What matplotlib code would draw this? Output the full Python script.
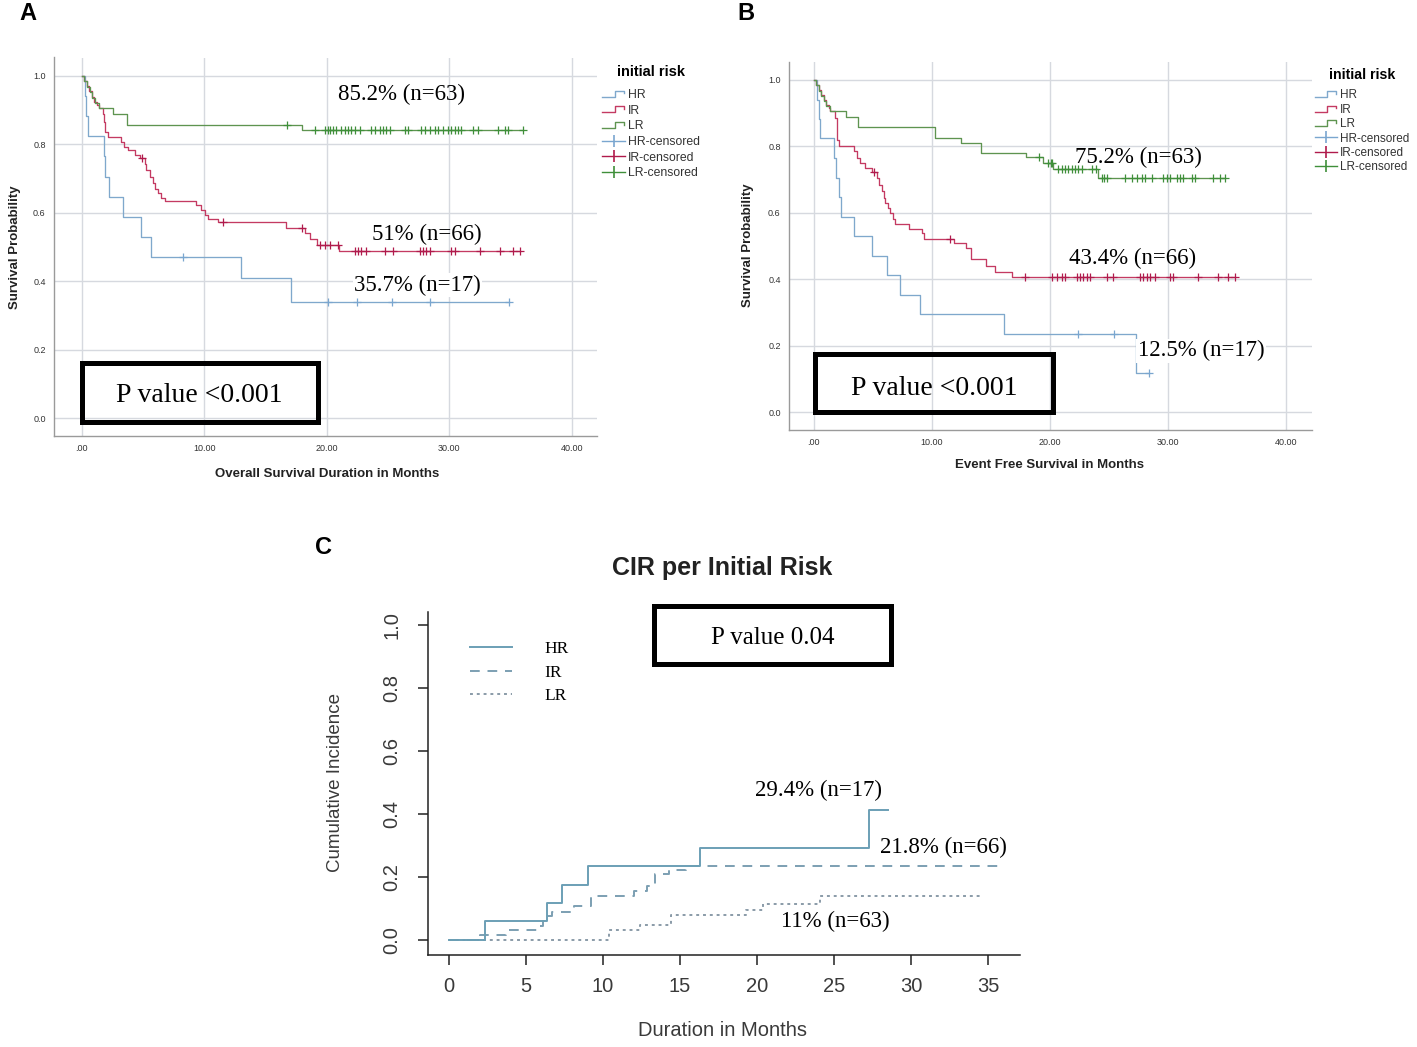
import numpy as np
import matplotlib
matplotlib.use("Agg")
import matplotlib.pyplot as plt
from matplotlib.lines import Line2D
from matplotlib.patches import Rectangle
from matplotlib.legend_handler import HandlerBase

plt.rcParams['font.family'] = ['Liberation Sans', 'DejaVu Sans']
SERIF = ['Liberation Serif', 'DejaVu Serif']

# ---------------- Panel A: overall survival (Kaplan-Meier) ----------------
os_hr_time = [0.25, 0.4, 0.5, 1.8, 1.95, 2.27, 3.36, 4.86, 5.68, 13.0, 17.1]
os_hr_surv = [0.941, 0.882, 0.824, 0.765, 0.706, 0.647, 0.588, 0.529, 0.471, 0.41, 0.34]
os_hr_cens = [8.3, 20.1, 22.5, 25.3, 28.4, 34.9]

os_ir_time = [0.22, 0.44, 0.63, 0.82, 1.04, 1.26, 1.45, 1.72, 1.8, 1.91, 2.13, 3.22, 3.5, 3.77,
              4.32, 4.73, 5.14, 5.27, 5.55, 5.82, 5.96, 6.23, 6.5, 6.78, 9.37, 9.78, 10.05, 10.33,
              11.15, 16.7, 18.2, 18.6, 19.2, 21.0]
os_ir_surv = [0.985, 0.97, 0.955, 0.94, 0.925, 0.915, 0.905, 0.89, 0.865, 0.837, 0.822, 0.808,
              0.793, 0.783, 0.769, 0.759, 0.744, 0.725, 0.705, 0.686, 0.671, 0.657, 0.642, 0.634,
              0.622, 0.608, 0.593, 0.583, 0.574, 0.557, 0.540, 0.525, 0.507, 0.488]
os_ir_cens = [4.95, 11.56, 17.95, 19.43, 19.84, 20.24, 20.92, 22.29, 22.56, 22.83, 23.24, 24.74,
              25.41, 27.59, 27.86, 28.14, 28.41, 30.18, 30.45, 32.49, 34.12, 35.21, 35.76]

os_lr_time = [0.2, 0.45, 0.65, 0.85, 1.1, 1.4, 2.6, 3.7, 18.0]
os_lr_surv = [0.984, 0.968, 0.952, 0.937, 0.921, 0.905, 0.889, 0.857, 0.842]
os_lr_cens = [16.8, 19.02, 19.84, 20.11, 20.24, 20.52, 20.79, 21.2, 21.47, 21.74, 22.01, 22.29,
              22.69, 23.65, 23.92, 24.33, 24.6, 24.87, 25.14, 26.37, 26.64, 27.72, 28.0, 28.41,
              28.82, 29.09, 29.5, 29.9, 30.18, 30.45, 30.72, 31.0, 31.95, 32.35, 34.0, 34.53,
              34.8, 36.0]

# ---------------- Panel B: event free survival ----------------
efs_hr_time = [0.3, 0.45, 0.55, 1.75, 1.9, 2.1, 2.3, 3.4, 4.9, 6.2, 7.3, 9.0, 16.1, 27.3]
efs_hr_surv = [0.941, 0.882, 0.824, 0.765, 0.706, 0.647, 0.588, 0.529, 0.471, 0.412, 0.353,
               0.294, 0.235, 0.117]
efs_hr_cens = [22.4, 25.4, 28.4]

efs_ir_time = [0.2, 0.45, 0.65, 0.85, 1.05, 1.25, 1.4, 1.83, 1.97, 2.1, 3.38, 3.66, 3.94, 4.37,
               4.93, 5.35, 5.55, 5.77, 5.92, 6.06, 6.28, 6.48, 6.68, 6.85, 8.03, 9.15, 9.3, 11.9,
               12.9, 13.3, 14.6, 15.35, 16.8]
efs_ir_surv = [0.985, 0.97, 0.955, 0.94, 0.925, 0.915, 0.905, 0.885, 0.82, 0.80, 0.785, 0.765,
               0.75, 0.735, 0.722, 0.705, 0.685, 0.665, 0.645, 0.63, 0.615, 0.60, 0.58, 0.565,
               0.552, 0.54, 0.52, 0.51, 0.495, 0.46, 0.44, 0.422, 0.407]
efs_ir_cens = [5.07, 11.55, 17.88, 20.14, 20.56, 20.99, 21.27, 22.26, 22.54, 22.82, 23.10, 23.39,
               24.80, 25.37, 27.63, 27.91, 28.19, 28.47, 28.90, 30.17, 30.40, 32.57, 34.27,
               35.11, 35.68]

efs_lr_time = [0.2, 0.45, 0.65, 0.85, 1.05, 1.4, 2.7, 3.75, 10.3, 12.5, 14.2, 18.0, 19.4, 20.3, 24.1]
efs_lr_surv = [0.984, 0.968, 0.952, 0.937, 0.921, 0.905, 0.889, 0.857, 0.825, 0.81, 0.78,
               0.767, 0.75, 0.733, 0.705]
efs_lr_cens = [19.1, 19.86, 20.06, 20.2, 20.71, 20.99, 21.27, 21.55, 21.84, 22.12, 22.4, 22.68,
               23.53, 23.9, 24.38, 24.58, 24.8, 26.35, 26.92, 27.34, 27.77, 28.05, 28.62, 29.6,
               29.89, 30.17, 30.73, 31.02, 31.24, 32.0, 32.29, 33.84, 34.41, 34.83]

# ---------------- Panel C: cumulative incidence of relapse ----------------
cir_hr_time = [2.35, 6.35, 7.35, 9.0, 16.3, 27.3]
cir_hr_val = [0.059, 0.116, 0.174, 0.235, 0.293, 0.412]
cir_hr_end = 28.5
cir_ir_time = [2.0, 3.7, 5.75, 6.1, 6.4, 6.7, 8.1, 9.2, 12.0, 12.85, 13.4, 14.3, 15.4]
cir_ir_val = [0.015, 0.03, 0.045, 0.06, 0.076, 0.09, 0.106, 0.14, 0.155, 0.17, 0.21, 0.222, 0.235]
cir_ir_end = 35.7
cir_lr_time = [10.4, 12.4, 14.4, 19.3, 20.4, 24.1]
cir_lr_val = [0.03, 0.047, 0.08, 0.095, 0.113, 0.14]
cir_lr_end = 34.5

groups = ["HR", "IR", "LR"]
km_xticks = [0, 10, 20, 30, 40]
km_xticklabels = [".00", "10.00", "20.00", "30.00", "40.00"]
km_yticks = [0.0, 0.2, 0.4, 0.6, 0.8, 1.0]
km_yticklabels = ["0.0", "0.2", "0.4", "0.6", "0.8", "1.0"]
cir_xticks = [0, 5, 10, 15, 20, 25, 30, 35]
cir_yticks = [0.0, 0.2, 0.4, 0.6, 0.8, 1.0]

labels_A = ["85.2% (n=63)", "51% (n=66)", "35.7% (n=17)"]
labels_B = ["75.2% (n=63)", "43.4% (n=66)", "12.5% (n=17)"]
labels_C = ["29.4% (n=17)", "21.8% (n=66)", "11% (n=63)"]

line_col = {"HR": "#7fa8cc", "IR": "#c43a62", "LR": "#5e9450"}
cens_col = {"HR": "#7aa6cf", "IR": "#b01a4c", "LR": "#3f8f3a"}
cir_col = {"HR": "#6b9fb5", "IR": "#7c9fb2", "LR": "#8a9ba8"}

W, H = 1417, 1047
fig = plt.figure(figsize=(W / 100, H / 100), dpi=100)


def px_axes(l, t, r, b):
    return fig.add_axes([l / W, 1 - b / H, (r - l) / W, (b - t) / H])


class HandlerStep(HandlerBase):
    def create_artists(self, legend, orig_handle, xdescent, ydescent, width, height, fontsize, trans):
        x0, y0 = -xdescent, -ydescent
        xs = [x0, x0 + 0.55 * width, x0 + 0.55 * width, x0 + 0.95 * width, x0 + 0.95 * width]
        ys = [y0 + 0.15 * height, y0 + 0.15 * height, y0 + 0.85 * height, y0 + 0.85 * height,
              y0 + 0.55 * height]
        return [Line2D(xs, ys, color=orig_handle.get_color(), lw=1.0, transform=trans)]


class HandlerCens(HandlerBase):
    def create_artists(self, legend, orig_handle, xdescent, ydescent, width, height, fontsize, trans):
        x0, y0 = -xdescent, -ydescent
        c = orig_handle.get_color()
        ln = Line2D([x0, x0 + width], [y0 + height / 2] * 2, color=c, lw=1.0, transform=trans)
        mk = Line2D([x0 + width / 2], [y0 + height / 2], marker='|', ms=8, mew=1.2, color=c,
                    transform=trans)
        return [ln, mk]


def km_panel(ax, data, xlab, xlim, ylim):
    for g, (t, s, c) in zip(groups, data):
        t = np.asarray(t, float); s = np.asarray(s, float); c = np.asarray(c, float)
        end = max(t.max(), c.max())
        tt = np.r_[0.0, t, end]
        ss = np.r_[1.0, s, s[-1]]
        ax.step(tt, ss, where='post', color=line_col[g], lw=0.95, zorder=3)
        cy = np.r_[1.0, s][np.searchsorted(t, c, side='right')]
        ax.plot(c, cy, ls='none', marker='+', ms=6, mew=0.9, color=cens_col[g], zorder=4)
    ax.set_xlim(*xlim)
    ax.set_ylim(*ylim)
    ax.set_xticks(km_xticks)
    ax.set_xticklabels(km_xticklabels)
    ax.set_yticks(km_yticks)
    ax.set_yticklabels(km_yticklabels)
    ax.grid(True, color="#d6d9df", lw=1.0)
    ax.set_axisbelow(True)
    for sp in ["top", "right"]:
        ax.spines[sp].set_visible(False)
    for sp in ["left", "bottom"]:
        ax.spines[sp].set_color("#9a9a9a")
        ax.spines[sp].set_linewidth(1.0)
    ax.tick_params(length=0, labelsize=6.5, labelcolor="#333333", pad=6)
    ax.set_xlabel(xlab, fontsize=9.5, fontweight='bold', color="#222222")
    ax.set_ylabel("Survival Probability", fontsize=9.5, fontweight='bold', color="#222222")


def km_legend(ax, anchor_px, fs, tfs, ls, title_gap_pt):
    hs = [Line2D([], [], color=line_col[g]) for g in groups]
    hc = [Line2D([], [], color=cens_col[g]) for g in groups]
    hmap = {h: HandlerStep() for h in hs}
    hmap.update({h: HandlerCens() for h in hc})
    leg = ax.legend(hs + hc, groups + [g + "-censored" for g in groups], handler_map=hmap,
                    loc='upper left', bbox_to_anchor=(anchor_px[0] / W, 1 - anchor_px[1] / H),
                    bbox_transform=fig.transFigure, frameon=False, fontsize=fs,
                    title="initial risk", title_fontproperties={'weight': 'bold', 'size': tfs},
                    handlelength=1.9, handletextpad=0.2, labelspacing=ls, borderpad=0,
                    borderaxespad=0)
    leg._legend_box.sep = title_gap_pt
    for t in leg.get_texts():
        t.set_color("#333333")


# ---------------- Panel A ----------------
axA = px_axes(54, 57.5, 597, 436)
km_panel(axA, [(os_hr_time, os_hr_surv, os_hr_cens), (os_ir_time, os_ir_surv, os_ir_cens),
               (os_lr_time, os_lr_surv, os_lr_cens)],
         "Overall Survival Duration in Months", (-2.25, 42.06), (-0.052, 1.054))
axA.xaxis.set_label_coords(0.503, -0.100)
axA.yaxis.set_label_coords(-0.071, 0.499)
axA.xaxis.label.set_va('center'); axA.yaxis.label.set_va('center')
km_legend(axA, (602, 65), 8.8, 10.5, 0.30, 7.2)
axA.text(26.1, 0.947, labels_A[0], family=SERIF, fontsize=16.5, ha='center', va='center')
axA.text(28.2, 0.538, labels_A[1], family=SERIF, fontsize=16.5, ha='center', va='center')
axA.text(27.4, 0.389, labels_A[2], family=SERIF, fontsize=16.5, ha='center', va='center',
         bbox=dict(fc='white', ec='none', pad=1))
axA.add_patch(Rectangle((0, -0.012), 19.3, 0.173, fill=False, ec='black', lw=3.6, zorder=6))
axA.text(9.6, 0.067, "P value <0.001", family=SERIF, fontsize=20, ha='center', va='center', zorder=6)

# ---------------- Panel B ----------------
axB = px_axes(789, 62, 1312, 430)
km_panel(axB, [(efs_hr_time, efs_hr_surv, efs_hr_cens), (efs_ir_time, efs_ir_surv, efs_ir_cens),
               (efs_lr_time, efs_lr_surv, efs_lr_cens)],
         "Event Free Survival in Months", (-2.1, 42.2), (-0.054, 1.054))
axB.xaxis.set_label_coords(0.499, -0.095)
axB.yaxis.set_label_coords(-0.078, 0.503)
axB.xaxis.label.set_va('center'); axB.yaxis.label.set_va('center')
km_legend(axB, (1315, 68), 8.5, 10.2, 0.20, 5.4)
axB.text(27.5, 0.768, labels_B[0], family=SERIF, fontsize=16.5, ha='center', va='center')
axB.text(27.0, 0.464, labels_B[1], family=SERIF, fontsize=16.5, ha='center', va='center')
axB.text(32.8, 0.184, labels_B[2], family=SERIF, fontsize=16.5, ha='center', va='center',
         bbox=dict(fc='white', ec='none', pad=1))
axB.add_patch(Rectangle((0.08, 0.0), 20.17, 0.175, fill=False, ec='black', lw=3.6, zorder=6))
axB.text(10.2, 0.072, "P value <0.001", family=SERIF, fontsize=20, ha='center', va='center', zorder=6)

# ---------------- Panel C ----------------
axC = px_axes(428, 612, 1020, 955)
styles = {"HR": "-", "IR": (0, (5, 4)), "LR": (0, (1.5, 2))}
for g, (t, v, e) in zip(groups, [(cir_hr_time, cir_hr_val, cir_hr_end),
                                 (cir_ir_time, cir_ir_val, cir_ir_end),
                                 (cir_lr_time, cir_lr_val, cir_lr_end)]):
    tt = np.r_[0.0, t, e]
    vv = np.r_[0.0, v, v[-1]]
    axC.step(tt, vv, where='post', color=cir_col[g], lw=1.4, ls=styles[g],
             zorder={"HR": 4, "IR": 3, "LR": 2}[g], label=g)
axC.set_xlim(-1.36, 37.08)
axC.set_ylim(-0.048, 1.041)
axC.set_xticks(cir_xticks)
axC.set_yticks(cir_yticks)
axC.set_xticklabels([str(v) for v in cir_xticks])
axC.set_yticklabels([f"{v:.1f}" for v in cir_yticks], rotation=90, va='center')
for sp in ["top", "right"]:
    axC.spines[sp].set_visible(False)
for sp in ["left", "bottom"]:
    axC.spines[sp].set_color("#222222")
    axC.spines[sp].set_linewidth(1.1)
axC.tick_params(length=7, width=1.1, color="#222222", labelsize=14.5, labelcolor="#3a3a3a")
axC.tick_params(axis='x', pad=9)
axC.tick_params(axis='y', pad=12)
axC.set_xlabel("Duration in Months", fontsize=14.5, color="#3a3a3a")
axC.set_ylabel("Cumulative Incidence", fontsize=13.5, color="#3a3a3a")
axC.xaxis.set_label_coords(0.497, -0.219)
axC.yaxis.set_label_coords(-0.157, 0.504)
axC.xaxis.label.set_va('center'); axC.yaxis.label.set_va('center')
legC = axC.legend(loc='upper left', bbox_to_anchor=(0.071, 0.915), frameon=False,
                  prop={'family': SERIF, 'size': 12.5}, handlelength=2.4, handletextpad=1.9,
                  labelspacing=0.41, borderpad=0, borderaxespad=0)
axC.text(24.0, 0.473, labels_C[0], family=SERIF, fontsize=16.5, ha='center', va='center')
axC.text(32.1, 0.295, labels_C[1], family=SERIF, fontsize=16.5, ha='center', va='center')
axC.text(25.1, 0.057, labels_C[2], family=SERIF, fontsize=16.5, ha='center', va='center')
axC.add_patch(Rectangle((13.3, 0.876), 15.4, 0.184, fill=False, ec='black', lw=3.6, zorder=6,
                        clip_on=False))
axC.text(21.0, 0.958, "P value 0.04", family=SERIF, fontsize=18, ha='center', va='center')

fig.text(722 / W, 1 - 568 / H, "CIR per Initial Risk", fontsize=18, fontweight='bold',
         ha='center', va='center', color="#222222")

# Panel letters
fig.text(28 / W, 1 - 14 / H, "A", fontsize=17, fontweight='bold', ha='center', va='center')
fig.text(746 / W, 1 - 14 / H, "B", fontsize=17, fontweight='bold', ha='center', va='center')
fig.text(324 / W, 1 - 548 / H, "C", fontsize=17, fontweight='bold', ha='center', va='center')

fig.savefig("out.png", dpi=100, facecolor='white')
